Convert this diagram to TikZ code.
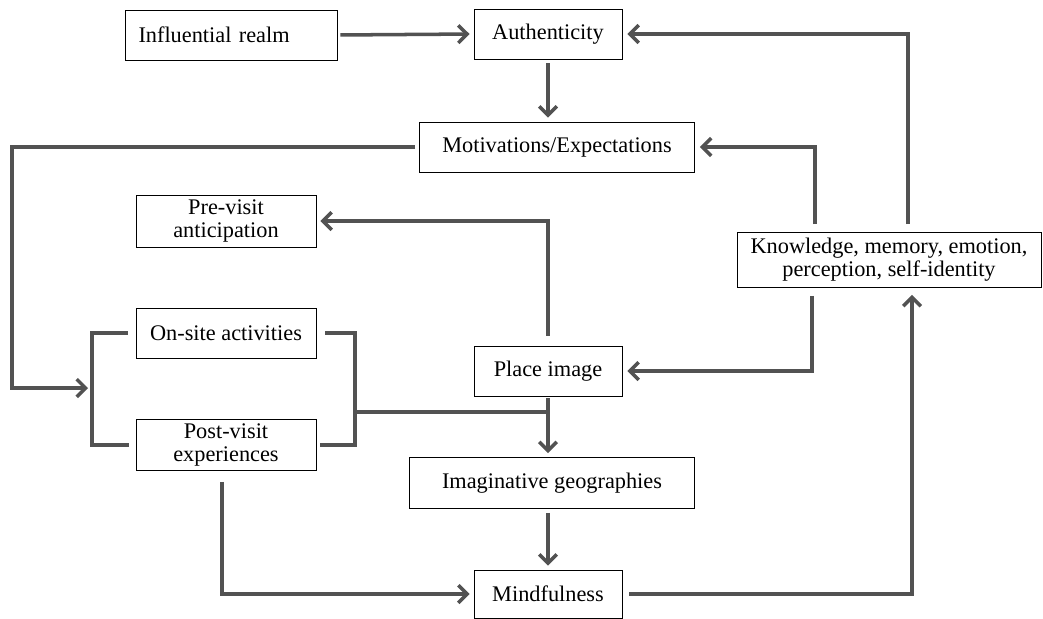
\documentclass[tikz,border=0pt]{standalone}
\usepackage{fontspec}
\setmainfont{Liberation Serif}
\usetikzlibrary{arrows.meta, positioning}

\begin{document}
\begin{tikzpicture}[node distance=2.24cm,on grid,>={Straight Barb[length=5pt,width=10pt]}]
    \tikzstyle{block}=[shape=rectangle,draw=black,line width=0.5pt,minimum height=1cm,inner sep=2pt,align=center,font=\fontsize{12.7}{13}\selectfont]
    \tikzstyle{link}=[draw=black!68,line width=2pt]
    \useasboundingbox (0,0) rectangle (20.86,-12.38);

    \node[block, minimum width=2.96cm] (auth) at (10.96,-0.68) {Authenticity};
    \node[block, text width=3.7cm, inner xsep=0.27cm, align=left] (infl) at (4.62,-0.70) {Influential realm};
    \node[block, minimum width=5.5cm, below=2.26cm of auth, xshift=0.18cm] (motiv) {Motivations/Expectations};
    \node[block, minimum width=3.6cm, minimum height=1.04cm] (pre) at (4.52,-4.42) {Pre-visit\\anticipation};
    \node[block, minimum width=3.6cm, below of=pre] (onsite) {On-site activities};
    \node[block, minimum width=3.6cm, minimum height=1.02cm, below of=onsite] (post) {Post-visit\\experiences};
    \node[block, minimum width=2.96cm] (place) at (10.96,-7.42) {Place image};
    \node[block, minimum width=5.7cm, minimum height=1.02cm, below of=place, xshift=0.08cm] (imag) {Imaginative geographies};
    \node[block, minimum width=2.96cm, minimum height=0.96cm, below=2.22cm of imag, xshift=-0.08cm] (mind) {Mindfulness};
    \node[block, minimum width=6.08cm, minimum height=1.1cm] (know) at (17.78,-5.2) {Knowledge, memory, emotion,\\perception, self-identity};

    \coordinate (lft) at (0.24,0);
    \coordinate (lbr) at (1.84,-7.76);
    \coordinate (rbr) at (7.1,-8.24);

    % top row
    \draw[link,->,shorten <=0.06cm,shorten >=0.08cm] (infl.east) -- (auth.west);
    \draw[link,->,shorten <=0.08cm,shorten >=0.08cm] (auth.south) -- (auth.south |- motiv.north);
    % motivations back to the site brackets
    \draw[link,->,shorten <=0.08cm,shorten >=0.08cm] (motiv.west) -| (lft |- lbr) -- (lbr);
    \draw[link] ([xshift=-0.16cm]onsite.west) -| (lbr) |- ([xshift=-0.14cm]post.west);
    \draw[link] ([xshift=0.18cm]onsite.east) -| (rbr) |- ([xshift=0.08cm]post.east);
    \draw[link] (rbr) -- (rbr -| place.south);
    % place image
    \draw[link,->,shorten <=0.2cm,shorten >=0.08cm] (place.north) |- (pre.east);
    \draw[link,->,shorten <=0.04cm,shorten >=0.08cm] (place.south) -- (place.south |- imag.north);
    \draw[link,->,shorten <=0.08cm,shorten >=0.08cm] (mind.north |- imag.south) -- (mind.north);
    \draw[link,->,shorten <=0.22cm,shorten >=0.08cm] ([xshift=-0.08cm]post.south) |- (mind.west);
    % knowledge feedback
    \draw[link,->,shorten <=0.16cm,shorten >=0.1cm] ([xshift=-1.48cm]know.north) |- (motiv.east);
    \draw[link,->,shorten <=0.16cm,shorten >=0.1cm] ([xshift=0.38cm]know.north) |- (auth.east);
    \draw[link,->,shorten <=0.16cm,shorten >=0.1cm] ([xshift=-1.54cm]know.south) |- (place.east);
    \draw[link,->,shorten <=0.14cm,shorten >=0.14cm] (mind.east) -| ([xshift=0.46cm]know.south);
\end{tikzpicture}
\end{document}
